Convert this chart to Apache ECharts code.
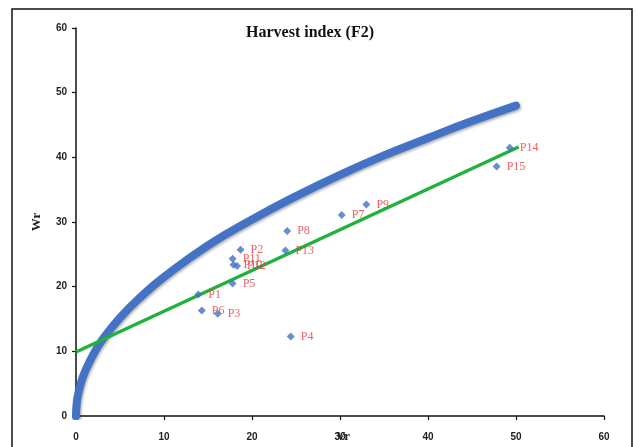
<!DOCTYPE html>
<html>
<head>
<meta charset="utf-8">
<script src="https://cdn.jsdelivr.net/npm/echarts@6/dist/echarts.min.js"></script>
<style>html,body{margin:0;padding:0;background:#fff;}#c{width:638px;height:447px;}</style>
</head>
<body>
<div id="c"></div>
<script>
// Parents (Vr, Wr)
var parentNames = ['P1','P2','P3','P4','P5','P6','P7','P8','P9','P10','P11','P12','P13','P14','P15'];
var parentVr = [13.9, 18.7, 16.1, 24.4, 17.8, 14.3, 30.2, 24.0, 33.0, 17.9, 17.8, 18.3, 23.8, 49.3, 47.8];
var parentWr = [18.8, 25.7, 15.8, 12.3, 20.5, 16.3, 31.1, 28.6, 32.7, 23.4, 24.3, 23.2, 25.6, 41.5, 38.6];
// Limiting parabola
var curveVr = [0, 0.1, 0.3, 0.6, 1, 2, 3, 5, 7.5, 10, 15, 20, 25, 30, 35, 40, 45, 50];
var curveWr = [0, 2.2, 3.7, 5.3, 6.8, 9.6, 11.8, 15.2, 18.6, 21.5, 26.4, 30.4, 34.0, 37.3, 40.3, 43.0, 45.6, 48.0];
// Regression line
var lineVr = [0, 50.3];
var lineWr = [9.9, 41.6];
var xTicks = [0, 10, 20, 30, 40, 50, 60];

var chart = echarts.init(document.getElementById('c'));
var pts = parentVr.map(function(v, i){ return {value:[v, parentWr[i]], name: parentNames[i]}; });
var curve = curveVr.map(function(v, i){ return [v, curveWr[i]]; });
var line = lineVr.map(function(v, i){ return [v, lineWr[i]]; });

chart.setOption({
  animation: false,
  title: {
    text: 'Harvest index (F2)', left: 305, top: 20, textAlign: 'center',
    textStyle: {fontFamily: 'Liberation Serif', fontWeight: 'bold', fontSize: 16, color: '#111'}
  },
  graphic: [{
    type: 'rect', shape: {x: 12, y: 9, width: 620, height: 460},
    style: {fill: 'none', stroke: '#111', lineWidth: 1.5}, silent: true, z: -1
  }],
  grid: {left: 76, right: 34, top: 28, bottom: 31, outerBoundsMode: 'none', containLabel: false},
  xAxis: {
    type: 'value', min: 0, max: 60, interval: 10,
    name: 'Vr', nameLocation: 'middle', nameGap: 14, nameMoveOverlap: false,
    nameTextStyle: {fontFamily: 'Liberation Serif', fontWeight: 'bold', fontSize: 13, color: '#222', padding: [0, 0, 0, 6]},
    axisLine: {lineStyle: {color: '#111', width: 1.5}},
    axisTick: {show: true, length: 4, lineStyle: {color: '#111', width: 1.2}},
    axisLabel: {fontFamily: 'Liberation Sans', fontWeight: 'bold', fontSize: 10, color: '#222', margin: 16},
    splitLine: {show: false}
  },
  yAxis: {
    type: 'value', min: 0, max: 60, interval: 10,
    name: 'Wr', nameLocation: 'middle', nameGap: 33, nameRotate: 90,
    nameTextStyle: {fontFamily: 'Liberation Serif', fontWeight: 'bold', fontSize: 13, color: '#222'},
    axisLine: {show: true, lineStyle: {color: '#111', width: 1.5}},
    axisTick: {show: true, length: 4, lineStyle: {color: '#111', width: 1.2}},
    axisLabel: {fontFamily: 'Liberation Sans', fontWeight: 'bold', fontSize: 10, color: '#222', margin: 9},
    splitLine: {show: false}
  },
  series: [
    {
      type: 'line', data: curve, smooth: true, showSymbol: false, z: 2,
      lineStyle: {color: '#4472C4', width: 8, cap: 'round', shadowColor: 'rgba(0,0,0,0.35)', shadowBlur: 3, shadowOffsetX: 1, shadowOffsetY: 1.5}
    },
    {
      type: 'line', data: line, showSymbol: false, z: 3,
      lineStyle: {color: '#1FB23C', width: 3.5}
    },
    {
      type: 'scatter', data: pts, symbol: 'diamond', symbolSize: 8, z: 4,
      itemStyle: {color: '#4472C4'},
      label: {
        show: true, position: 'right', distance: 6, formatter: '{b}',
        fontFamily: 'Liberation Serif', fontSize: 12, color: '#E8383D'
      }
    }
  ]
});
</script>
</body>
</html>
